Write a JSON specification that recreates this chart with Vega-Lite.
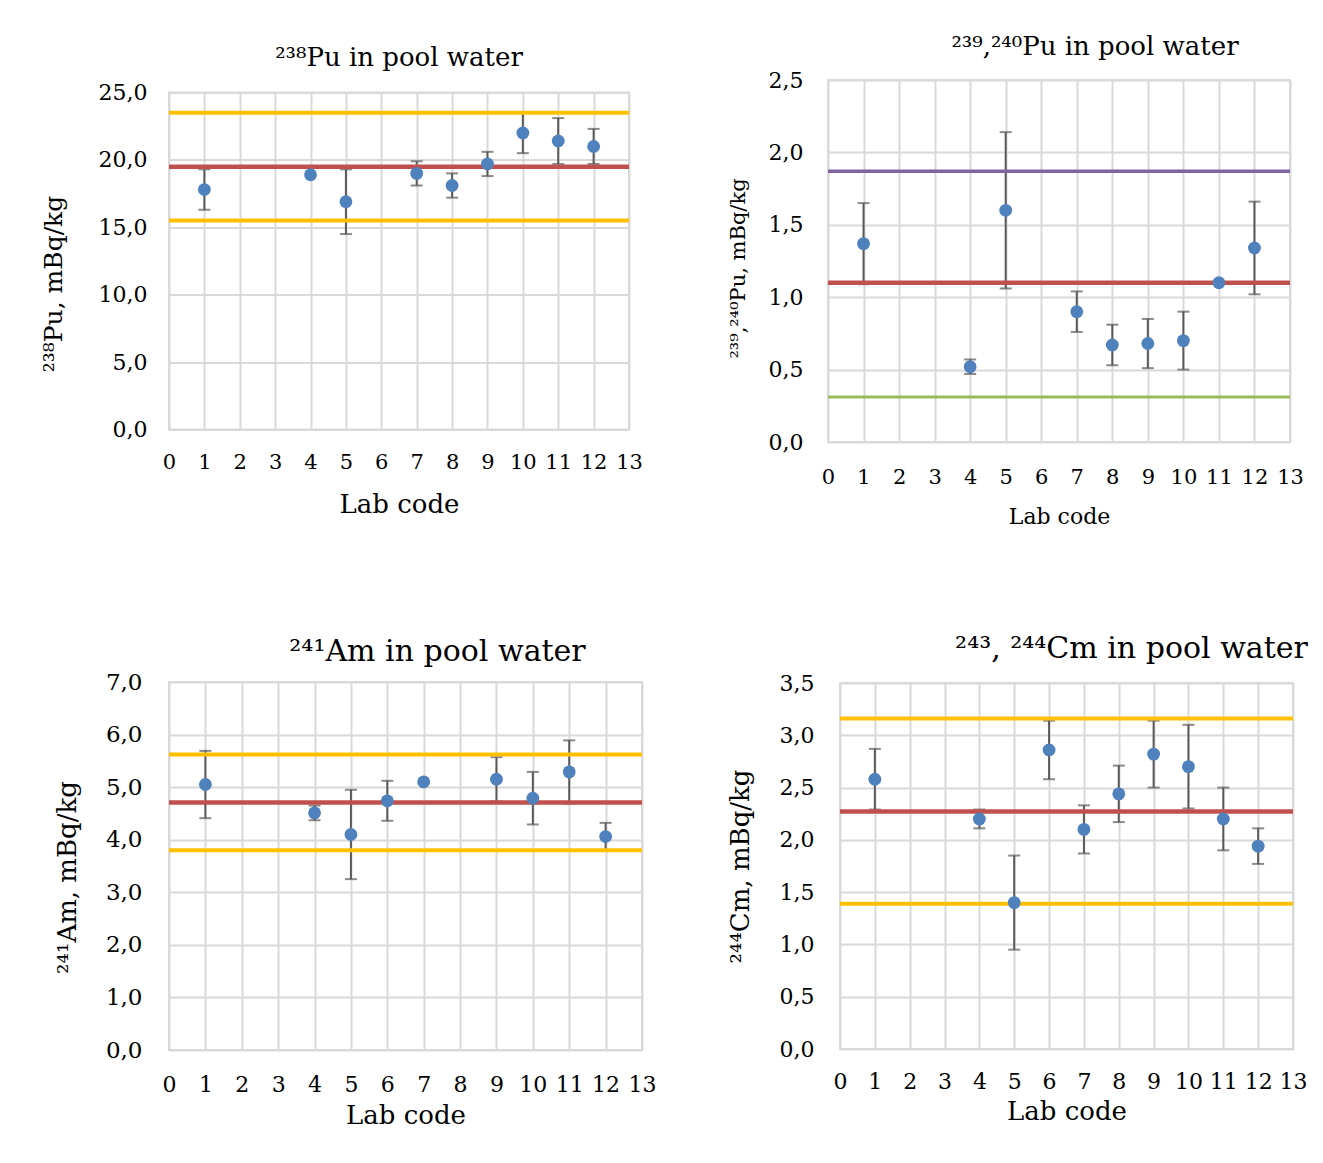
{
  "$schema": "https://vega.github.io/schema/vega-lite/v6.json",
  "background": "white",
  "padding": {"left": 40, "top": 33, "right": 5, "bottom": 5},
  "config": {
    "font": "DejaVu Serif",
    "view": {"stroke": "#D9D9D9", "strokeWidth": 2},
    "axis": {
      "grid": true, "gridColor": "#D9D9D9", "gridWidth": 2,
      "domain": false, "ticks": false, "labelOverlap": false, "labelFlush": false,
      "labelFont": "DejaVu Serif", "labelColor": "#000000",
      "titleFont": "DejaVu Serif", "titleColor": "#000000", "titleFontWeight": "normal",
      "labelFontSize": 21, "titleFontSize": 26
    },
    "title": {"font": "DejaVu Serif", "fontWeight": "normal", "color": "#000000", "anchor": "middle"}
  },
  "datasets": {
    "pu238": [
      {"lab": 1, "value": 17.8, "err": 1.5},
      {"lab": 4, "value": 18.9, "err": 0},
      {"lab": 5, "value": 16.9, "err": 2.4},
      {"lab": 7, "value": 19.0, "err": 0.9},
      {"lab": 8, "value": 18.1, "err": 0.9},
      {"lab": 9, "value": 19.7, "err": 0.9},
      {"lab": 10, "value": 22.0, "err": 1.5},
      {"lab": 11, "value": 21.4, "err": 1.7},
      {"lab": 12, "value": 21.0, "err": 1.3}
    ],
    "pu238ref": [
      {"line": "mean", "value": 19.5},
      {"line": "limit", "value": 23.5},
      {"line": "limit", "value": 15.5}
    ],
    "pu239": [
      {"lab": 1, "value": 1.37, "err": 0.28},
      {"lab": 4, "value": 0.52, "err": 0.05},
      {"lab": 5, "value": 1.60, "err": 0.54},
      {"lab": 7, "value": 0.90, "err": 0.14},
      {"lab": 8, "value": 0.67, "err": 0.14},
      {"lab": 9, "value": 0.68, "err": 0.17},
      {"lab": 10, "value": 0.70, "err": 0.20},
      {"lab": 11, "value": 1.10, "err": 0},
      {"lab": 12, "value": 1.34, "err": 0.32}
    ],
    "pu239ref": [
      {"line": "mean", "value": 1.10},
      {"line": "upper", "value": 1.87},
      {"line": "lower", "value": 0.31}
    ],
    "am241": [
      {"lab": 1, "value": 5.05, "err": 0.64},
      {"lab": 4, "value": 4.51, "err": 0.14},
      {"lab": 5, "value": 4.10, "err": 0.85},
      {"lab": 6, "value": 4.74, "err": 0.38},
      {"lab": 7, "value": 5.10, "err": 0},
      {"lab": 9, "value": 5.15, "err": 0.42},
      {"lab": 10, "value": 4.79, "err": 0.50},
      {"lab": 11, "value": 5.29, "err": 0.60},
      {"lab": 12, "value": 4.06, "err": 0.26}
    ],
    "am241ref": [
      {"line": "mean", "value": 4.71},
      {"line": "limit", "value": 5.62},
      {"line": "limit", "value": 3.80}
    ],
    "cm244": [
      {"lab": 1, "value": 2.58, "err": 0.29},
      {"lab": 4, "value": 2.20, "err": 0.09},
      {"lab": 5, "value": 1.40, "err": 0.45},
      {"lab": 6, "value": 2.86, "err": 0.28},
      {"lab": 7, "value": 2.10, "err": 0.23},
      {"lab": 8, "value": 2.44, "err": 0.27},
      {"lab": 9, "value": 2.82, "err": 0.32},
      {"lab": 10, "value": 2.70, "err": 0.40},
      {"lab": 11, "value": 2.20, "err": 0.30},
      {"lab": 12, "value": 1.94, "err": 0.17}
    ],
    "cm244ref": [
      {"line": "mean", "value": 2.27},
      {"line": "limit", "value": 3.16},
      {"line": "limit", "value": 1.39}
    ]
  },
  "spacing": 105,
  "bounds": "full",
  "vconcat": [
    {
      "hconcat": [
        {
          "width": 460, "height": 337,
          "title": {"text": "²³⁸Pu in pool water", "fontSize": 26, "offset": 11},
          "encoding": {
            "y": {"field": "value", "type": "quantitative",
              "scale": {"domain": [0, 25], "nice": false},
              "axis": {"values": [0, 5, 10, 15, 20, 25], "title": "²³⁸Pu, mBq/kg", "titleFontSize": 25, "labelFontSize": 22, "labelPadding": 22, "titlePadding": 32, "titleY": 191,
                "labelExpr": "replace(format(datum.value, '.1f'), '.', ',')"}}
          },
          "layer": [
            {
              "data": {"name": "pu238"},
              "transform": [{"filter": "datum.err > 0"}],
              "mark": {"type": "errorbar", "ticks": {"size": 12, "thickness": 2}, "rule": {"strokeWidth": 2}, "color": "#595959", "thickness": 2},
              "encoding": {
                "x": {"field": "lab", "type": "quantitative", "scale": {"domain": [0, 13], "nice": false},
                  "axis": {"values": [0,1,2,3,4,5,6,7,8,9,10,11,12,13], "title": "Lab code", "labelPadding": 22, "titlePadding": 19}},
                "yError": {"field": "err"}
              }
            },
            {
              "data": {"name": "pu238ref"},
              "mark": {"type": "rule"},
              "encoding": {
                "color": {"field": "line", "type": "nominal", "legend": null,
                  "scale": {"domain": ["mean", "limit", "upper", "lower"], "range": ["#C0504D", "#FFC000", "#8064A2", "#9BBB59"]}},
                "size": {"field": "line", "type": "nominal", "legend": null,
                  "scale": {"domain": ["mean", "limit", "upper", "lower"], "range": [4.5, 3, 3, 3]}}
              }
            },
            {
              "data": {"name": "pu238"},
              "mark": {"type": "circle", "size": 165, "opacity": 1, "color": "#4F81BD"},
              "encoding": {
                "x": {"field": "lab", "type": "quantitative", "scale": {"domain": [0, 13], "nice": false},
                  "axis": {"values": [0,1,2,3,4,5,6,7,8,9,10,11,12,13], "title": "Lab code", "labelPadding": 22, "titlePadding": 19}}
              }
            }
          ]
        },
        {
          "width": 462, "height": 362,
          "title": {"text": "²³⁹,²⁴⁰Pu in pool water", "fontSize": 26, "offset": 9, "dx": 36},
          "encoding": {
            "y": {"field": "value", "type": "quantitative",
              "scale": {"domain": [0, 2.5], "nice": false},
              "axis": {"values": [0, 0.5, 1, 1.5, 2, 2.5], "title": "²³⁹,²⁴⁰Pu, mBq/kg", "titleFontSize": 21, "labelFontSize": 22, "labelPadding": 25, "titlePadding": 20, "titleY": 188,
                "labelExpr": "replace(format(datum.value, '.1f'), '.', ',')"}}
          },
          "layer": [
            {
              "data": {"name": "pu239"},
              "transform": [{"filter": "datum.err > 0"}],
              "mark": {"type": "errorbar", "ticks": {"size": 12, "thickness": 2}, "rule": {"strokeWidth": 2}, "color": "#595959", "thickness": 2},
              "encoding": {
                "x": {"field": "lab", "type": "quantitative", "scale": {"domain": [0, 13], "nice": false},
                  "axis": {"values": [0,1,2,3,4,5,6,7,8,9,10,11,12,13], "title": "Lab code", "titleFontSize": 22, "labelPadding": 24, "titlePadding": 19}},
                "yError": {"field": "err"}
              }
            },
            {
              "data": {"name": "pu239ref"},
              "mark": {"type": "rule"},
              "encoding": {
                "color": {"field": "line", "type": "nominal", "legend": null,
                  "scale": {"domain": ["mean", "limit", "upper", "lower"], "range": ["#C0504D", "#FFC000", "#8064A2", "#9BBB59"]}},
                "size": {"field": "line", "type": "nominal", "legend": null,
                  "scale": {"domain": ["mean", "limit", "upper", "lower"], "range": [4.5, 3, 3, 3]}}
              }
            },
            {
              "data": {"name": "pu239"},
              "mark": {"type": "circle", "size": 165, "opacity": 1, "color": "#4F81BD"},
              "encoding": {
                "x": {"field": "lab", "type": "quantitative", "scale": {"domain": [0, 13], "nice": false},
                  "axis": {"values": [0,1,2,3,4,5,6,7,8,9,10,11,12,13], "title": "Lab code", "titleFontSize": 22, "labelPadding": 24, "titlePadding": 19}}
              }
            }
          ]
        }
      ],
      "spacing": 199,
      "bounds": "flush",
      "center": true
    },
    {
      "hconcat": [
        {
          "width": 473, "height": 368,
          "title": {"text": "²⁴¹Am in pool water", "fontSize": 30, "offset": 4, "dx": 32},
          "encoding": {
            "y": {"field": "value", "type": "quantitative",
              "scale": {"domain": [0, 7], "nice": false},
              "axis": {"values": [0, 1, 2, 3, 4, 5, 6, 7], "title": "²⁴¹Am, mBq/kg", "titleFontSize": 26, "labelFontSize": 23, "labelPadding": 27, "titlePadding": 25, "titleY": 195,
                "labelExpr": "replace(format(datum.value, '.1f'), '.', ',')"}}
          },
          "layer": [
            {
              "data": {"name": "am241"},
              "transform": [{"filter": "datum.err > 0"}],
              "mark": {"type": "errorbar", "ticks": {"size": 12, "thickness": 2}, "rule": {"strokeWidth": 2}, "color": "#595959", "thickness": 2},
              "encoding": {
                "x": {"field": "lab", "type": "quantitative", "scale": {"domain": [0, 13], "nice": false},
                  "axis": {"values": [0,1,2,3,4,5,6,7,8,9,10,11,12,13], "title": "Lab code", "labelFontSize": 22, "labelPadding": 24, "titlePadding": 7}},
                "yError": {"field": "err"}
              }
            },
            {
              "data": {"name": "am241ref"},
              "mark": {"type": "rule"},
              "encoding": {
                "color": {"field": "line", "type": "nominal", "legend": null,
                  "scale": {"domain": ["mean", "limit", "upper", "lower"], "range": ["#C0504D", "#FFC000", "#8064A2", "#9BBB59"]}},
                "size": {"field": "line", "type": "nominal", "legend": null,
                  "scale": {"domain": ["mean", "limit", "upper", "lower"], "range": [4.5, 3, 3, 3]}}
              }
            },
            {
              "data": {"name": "am241"},
              "mark": {"type": "circle", "size": 165, "opacity": 1, "color": "#4F81BD"},
              "encoding": {
                "x": {"field": "lab", "type": "quantitative", "scale": {"domain": [0, 13], "nice": false},
                  "axis": {"values": [0,1,2,3,4,5,6,7,8,9,10,11,12,13], "title": "Lab code", "labelFontSize": 22, "labelPadding": 24, "titlePadding": 7}}
              }
            }
          ]
        },
        {
          "width": 453, "height": 366,
          "title": {"text": "²⁴³, ²⁴⁴Cm in pool water", "fontSize": 30, "offset": 8, "dx": 65},
          "encoding": {
            "y": {"field": "value", "type": "quantitative",
              "scale": {"domain": [0, 3.5], "nice": false},
              "axis": {"values": [0, 0.5, 1, 1.5, 2, 2.5, 3, 3.5], "title": "²⁴⁴Cm, mBq/kg", "titleFontSize": 26, "labelFontSize": 22, "labelPadding": 26, "titlePadding": 26,
                "labelExpr": "replace(format(datum.value, '.1f'), '.', ',')"}}
          },
          "layer": [
            {
              "data": {"name": "cm244"},
              "transform": [{"filter": "datum.err > 0"}],
              "mark": {"type": "errorbar", "ticks": {"size": 12, "thickness": 2}, "rule": {"strokeWidth": 2}, "color": "#595959", "thickness": 2},
              "encoding": {
                "x": {"field": "lab", "type": "quantitative", "scale": {"domain": [0, 13], "nice": false},
                  "axis": {"values": [0,1,2,3,4,5,6,7,8,9,10,11,12,13], "title": "Lab code", "labelFontSize": 22, "labelPadding": 22, "titlePadding": 6}},
                "yError": {"field": "err"}
              }
            },
            {
              "data": {"name": "cm244ref"},
              "mark": {"type": "rule"},
              "encoding": {
                "color": {"field": "line", "type": "nominal", "legend": null,
                  "scale": {"domain": ["mean", "limit", "upper", "lower"], "range": ["#C0504D", "#FFC000", "#8064A2", "#9BBB59"]}},
                "size": {"field": "line", "type": "nominal", "legend": null,
                  "scale": {"domain": ["mean", "limit", "upper", "lower"], "range": [4.5, 3, 3, 3]}}
              }
            },
            {
              "data": {"name": "cm244"},
              "mark": {"type": "circle", "size": 165, "opacity": 1, "color": "#4F81BD"},
              "encoding": {
                "x": {"field": "lab", "type": "quantitative", "scale": {"domain": [0, 13], "nice": false},
                  "axis": {"values": [0,1,2,3,4,5,6,7,8,9,10,11,12,13], "title": "Lab code", "labelFontSize": 22, "labelPadding": 22, "titlePadding": 6}}
              }
            }
          ]
        }
      ],
      "spacing": 198,
      "bounds": "flush",
      "center": true
    }
  ]
}
